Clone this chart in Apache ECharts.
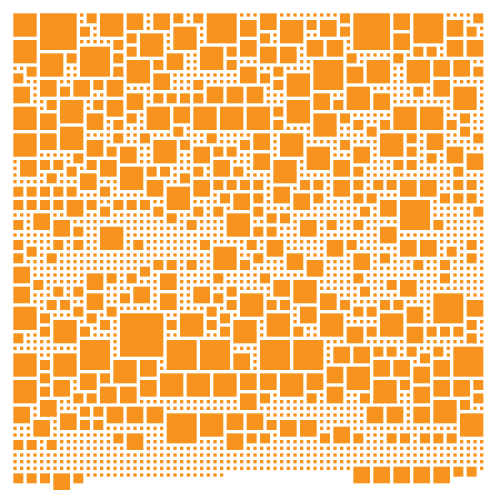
<!DOCTYPE html>
<html>
<head>
<meta charset="utf-8">
<style>html,body{margin:0;padding:0;background:#fff}#c{width:500px;height:500px}</style>
<script src="https://cdn.jsdelivr.net/npm/echarts@6/dist/echarts.min.js"></script>
</head>
<body>
<div id="c"></div>
<script>
// One string per grid row. A digit is the size in cells of the
// square whose top-left cell is there; a dot is a cell with no new square. Spaces are only for reading.
const cellRows = [
"4... 6..... 1 2. 4... 3.. 1 3.. 2. 1 2. 5.... 111 3.. 111111111 2. 6..... 3.. 5.... 1111 2.",
".... ...... 1 .. .... ... 1 ... .. 1 .. ..... 3.. ... 4... 2. 3.. .. ...... ... ..... 3.. 1 ..",
".... ...... 2. 1 .... ... 1 ... 4... 1 ..... ... ... .... .. ... 2. ...... ... ..... ... 2. 1",
".... ...... .. 1 .... 2. 4... 1 .... 1 ..... ... 2. 1 .... 11 ... .. ...... 3.. ..... ... .. 1",
"4... ...... 11111 2. .. .... 1 .... 1 ..... 3.. .. 1 .... 3.. 3.. 1 ...... ... ..... 3.. 3..",
".... ...... 5.... .. 2. .... 1 .... 4... 2. ... 3.. 3.. 1 ... ... 1 ...... ... 2. 2. 1 ... ...",
".... 4... 2. ..... 2. .. .... 3.. 11 .... .. ... ... ... 1 ... ... 2. 11111 2. 1 .. .. 1 ... ...",
".... .... .. ..... .. 4... 2. ... 11 .... 2. 111 ... ... 11 5.... .. 1 4... .. 4... 3.. 3.. 11",
"11 2. .... 11 ..... 2. .... .. ... 11 .... .. 3.. 11 2. 1111 ..... 3.. .... 11 .... ... ... 2.",
"2. .. .... 11 ..... 11 .... 3.. 1111111111 ... 2. .. 4... ..... ... .... 11 .... ... ... ..",
".. 11 3.. 11 3.. 2. 3.. .... ... 111 2. 11111 ... .. 2. .... ..... ... .... 11 .... 3.. 11111",
"3.. 1 ... 2. ... .. ... 1111 ... 111 .. 3.. 3.. 3.. 1 .. .... ..... 4... 111111 2. 1 ... 4... 1",
"... 1 ... .. ... 11 ... 3.. 1 2. 2. 2. 2. ... ... ... 111 .... 3.. 11 .... 3.. 111 .. 1 ... .... 1",
"... 11 2. 4... 1 2. 3.. ... 1 .. .. .. .. ... ... ... 111 4... ... 2. .... ... 111111111 .... 1",
"4... 1 .. .... 1 .. ... ... 4... 3.. 4... 4... 4... 2. .... ... .. .... ... 4... 4... 1 .... 1",
".... 3.. .... 3.. ... 2. 1 .... ... .... .... .... .. .... 4... 2. 111111 .... .... 11 2. 11",
".... ... .... ... 1 2. .. 1 .... ... .... .... .... 2. .... .... .. 2. 11 2. .... .... 2. .. 11",
".... ... 4... ... 1 .. 111 .... 2. 1 .... .... .... .. 1111 .... 11 .. 2. .. .... .... .. 2. 11",
"4... 3.. .... 1111 2. 11 2. 111 .. 111 2. 11111 3.. 1 4... 1 .... 1111 .. 4... 2. 1 3.. 11 .. 2.",
".... ... .... 3.. 1 .. 11 .. 4... 2. 11 .. 111 2. ... 1 .... 11111 2. 1111 .... .. 1 ... 1111 ..",
".... ... .... ... 2. 3.. 11 .... .. 3.. 2. 2. .. ... 1 .... 4... 1 .. 3.. 1 .... 2. 1 ... 3.. 111",
".... 11111 2. ... .. ... 11 .... 11 ... .. .. 11 3.. 1 .... .... 111 ... 1 .... .. 1 2. 1 ... 3..",
"1 3.. 2. 2. 1 .. 2. 3.. ... 11 .... 11 ... 3.. 111 ... 4... 1 .... 3.. ... 111 2. 2. 1 .. 1 ... ...",
"1 ... .. .. 2. 1 .. ... 4... 2. 2. 111 2. 1 ... 2. 1111 .... 1 .... ... 2. 1111 .. .. 11111 2. ...",
"1 ... 1 2. 1 .. 3.. ... .... .. .. 1 2. .. 1 ... .. 1111 .... 11111 ... .. 1111111111111 .. 111",
"11111 .. 111 ... 111 .... 3.. 11 .. 3.. 2. 2. 2. 2. 1 .... 2. 2. 1 3.. 2. 1 2. 2. 3.. 3.. 11 2. 2. 1",
"2. 2. 2. 2. 2. ... 2. 1 .... ... 4... ... .. .. .. .. 1 3.. 1 .. .. 1 ... .. 1 .. .. ... ... 11 .. .. 1",
".. .. .. .. .. 111 .. 11111 ... .... ... 1 2. 3.. 2. 1 ... 3.. 2. 1 ... 2. 2. 111 ... ... 2. 2. 2. 1",
"2. 2. 2. 2. 3.. 2. 11 2. 2. 2. 11 .... 1111 .. ... .. 1 ... ... .. 1111 .. .. 3.. 5.... 1 .. .. .. 1",
".. .. .. .. ... .. 2. .. .. .. 2. .... 2. 1 2. 1 ... 2. 1111 ... 1111111 2. 1 ... ..... 111111 2.",
"111 3.. 11 ... 11 .. 111111 .. 2. 11 .. 1 .. 4... .. 2. 2. 1111111111 .. 1 ... ..... 111111 ..",
"2. 1 ... 3.. 11111111111111 .. 1 2. 1111 .... 11 .. .. 1 3.. 1 2. 11 2. 11111 ..... 2. 111111",
".. 1 ... ... 2. 11 4... 111111111 .. 1111 .... 2. 2. 111 ... 1 .. 11 .. 11 3.. ..... .. 111111",
"111111 ... .. 11 .... 111111111111111 .... .. .. 111 ... 111111111 ... 1111111111111",
"2. 1111 2. 1 2. 11 .... 1 2. 11111111 2. 11111 2. 1 3.. 111111 3.. 2. 111 ... 3.. 3.. 1111 2. 1",
".. 2. 11 .. 1 .. 11 .... 1 .. 11111111 .. 4... 1 .. 1 ... 111111 ... .. 111111 ... ... 1 2. 1 .. 1",
"2. .. 1 2. 1111111111 1111111111 111 .... 11 2. ... 3.. 111 ... 1 3.. 1 2. 1 ... ... 1 .. 1 2. 1",
".. 111 .. 1111111111 1111 2. 2. 1 2. 11 .... 2. .. 111 ... 3.. 1111 ... 1 .. 111 2. 11 2. 11 .. 1",
"3.. 1111111111 111111 2. .. .. 1 .. 11 .... .. 11111 ... ... 1111 ... 111111 .. 11 .. 11111",
"... 11111111 3.. 2. 1 2. .. 1 3.. 11111 2. 11111 2. 11111 ... 1111 2. 11111111111 2. 11111",
"... 2. 111111 ... .. 1 .. 111 ... 11111 .. 11111 .. 3.. 4... 11111 .. 111 2. 3.. 111 .. 11111",
"3.. .. 1 2. 1 2. ... 1111 3.. 1 ... 11 3.. 11 2. 11111 ... .... 111111 2. 11 .. ... 1111111111",
"... 111 .. 1 .. 3.. 11 2. ... 1 3.. 11 ... 2. .. 4... 1 ... .... 3.. 111 .. 1111 ... 11 5.... 111",
"... 11 2. 2. 11 ... 11 .. ... 1 ... 11 ... .. 2. .... 2. 2. .... ... 2. 1111 2. 2. 1111 ..... 3..",
"4... 1 .. .. 2. ... 2. 111111 ... 1111 2. 1 .. .... .. .. 1 3.. ... .. 2. 2. .. .. 3.. 1 ..... ...",
".... 2. 111 .. 2. 1 .. 7...... 11 4... .. 2. 1 .... 4... 1 ... 4... 1 .. .. 4... ... 1 ..... ...",
".... .. 4... 1 .. 2. 1 ....... 2. .... 2. .. 4... 1 .... 1 ... .... 11111 .... ... 1 ..... 2. 1",
".... 2. .... 2. 1 .. 1 ....... .. .... .. 2. .... 1 .... 2. 11 .... 3.. 2. .... 3.. 2. 2. 2. .. 1",
"2. 11 .. .... .. 1111 ....... 11 .... 11 .. .... 1 .... .. 11 .... ... .. .... ... .. .. .. 2. 1",
".. 1111 .... 5.... 1 ....... 5.... 5.... .... 5.... 5.... 111 ... 111111 ... 111111111",
"1111111111 ..... 1 ....... ..... ..... 1111 ..... ..... 1 3.. 3.. 2. 2. 1 2. 11 2. 1 5....",
"4... 11 4... ..... 1 ....... ..... ..... 3.. 1 ..... ..... 1 ... ... .. .. 1 .. 2. .. 1 .....",
".... 2. .... ..... 4... 3.. 1 ..... ..... ... 1 ..... ..... 1 ... ... 3.. 3.. 1 .. 3.. .....",
".... .. .... ..... .... ... 1 ..... ..... ... 1 ..... ..... 3.. 4... ... ... 3.. ... .....",
".... 2. .... 3.. 2. .... ... 4... 4... 4... 3.. 3.. 4... 3.. ... .... ... ... ... ... .....",
"4... .. 3.. 1 ... .. .... 3.. .... .... .... ... ... .... ... ... .... 4... 2. ... 3.. 3.. 2.",
".... 2. ... 1 ... 3.. 3.. ... .... .... .... ... ... .... ... 3.. .... .... .. 3.. ... ... ..",
".... .. ... 2. 2. ... ... ... .... .... .... 3.. 2. 1 .... 2. 1 ... 11 2. .... 11 ... ... ... 2.",
".... 3.. 11 .. .. ... ... 111111111111111 ... .. 11111 .. 1 ... 11 .. 111111 ... 4... 2. ..",
"3.. 1 ... 111 2. 2. 3.. 3.. 3.. 11111111111 ... 1111111111111111 3.. 3.. 1 3.. .... .. 11",
"... 1111 3.. .. .. ... ... ... 5.... 4... 3.. 3.. 111111111111111 ... ... 1 ... .... 4...",
"... 3.. 1 ... 2. 2. ... ... ... ..... .... ... ... 2. 3.. 3.. 1111111 ... ... 1 ... .... ....",
"111 ... 1 ... .. .. 111111111 ..... .... ... ... .. ... ... 11 3.. 1111111111111111 ....",
"111 ... 111111111 2. 3.. 111 ..... .... 3.. 2. 2. 1 ... ... 2. ... 2. 111 2. 2. 1 2. 2. 2. ....",
"2. 2. 1 2. 11111111 .. ... 111 ..... 1111 ... .. .. 1111111 .. ... .. 111 .. .. 1 .. .. .. 1111",
".. .. 1 .. 1111111111 ... 111111111111 ... 1111111111 1111111111 1111111111 111111",
"1111111111 1111111111 1111111111 1111111111 1111111111 1111111111 1111111111 1",
"1111111111 1111111111 1111111111 1111111111 1111111111 1111111111 1111111111 1",
"1111111111 1111111111 1111111111 1111111111 1111111111 1 3.. 3.. 3.. 3.. 3.. 2. 2. 1",
"2. 2. 2. 3.. 2. 1111111111 1111111111 1"
];
const squareColour = "#f7941e";

const colValues = [], rowValues = [], sizeValues = [];
cellRows.forEach(function (text, r) {
  text.replace(/ /g, "").split("").forEach(function (ch, c) {
    if (ch !== ".") { colValues.push(c); rowValues.push(r); sizeValues.push(Number(ch)); }
  });
});
const seriesData = colValues.map(function (c, i) { return [c, rowValues[i], sizeValues[i]]; });

const chart = echarts.init(document.getElementById("c"), null, { renderer: "canvas" });
chart.setOption({
  animation: false,
  backgroundColor: "#ffffff",
  grid: { left: 0, right: 0, top: 0, bottom: 0 },
  xAxis: { type: "value", min: -2, max: 73, show: false },
  yAxis: { type: "value", min: -2, max: 73, inverse: true, show: false },
  tooltip: { show: false },
  series: [{
    type: "custom",
    silent: true,
    data: seriesData,
    encode: { x: 0, y: 1 },
    renderItem: function (params, api) {
      const c = api.value(0), r = api.value(1), n = api.value(2);
      const a = api.coord([c, r]);
      const b = api.coord([c + n - 0.5, r + n - 0.5]);
      return {
        type: "rect",
        shape: { x: a[0], y: a[1], width: b[0] - a[0], height: b[1] - a[1] },
        style: { fill: squareColour }
      };
    }
  }]
});
</script>
</body>
</html>
